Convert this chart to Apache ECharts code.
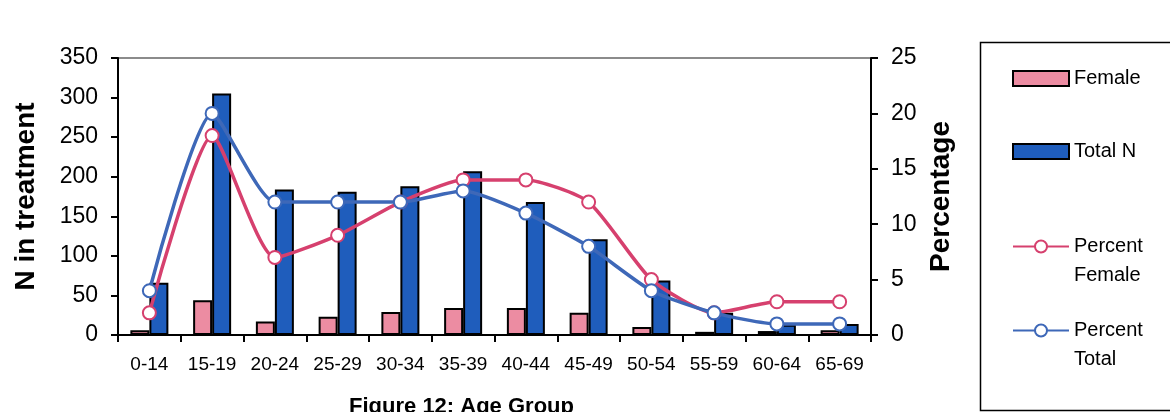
<!DOCTYPE html>
<html>
<head>
<meta charset="utf-8">
<script src="https://cdn.jsdelivr.net/npm/echarts@6/dist/echarts.min.js"></script>
<style>
html,body{margin:0;padding:0;background:#fff;}
#c{width:1170px;height:412px;}
</style>
</head>
<body>
<div id="c"></div>
<script>
var categories = ['0-14','15-19','20-24','25-29','30-34','35-39','40-44','45-49','50-54','55-59','60-64','65-69'];
var female = [6, 44, 17, 23, 29, 34, 34, 28, 10, 4, 5, 6];
var totalN = [66, 305, 184, 181, 188, 207, 168, 121, 69, 28, 13, 14];
var percentFemale = [2, 18, 7, 9, 12, 14, 14, 12, 5, 2, 3, 3];
var percentTotal = [4, 20, 12, 12, 12, 13, 11, 8, 4, 2, 1, 1];
var leftTicks = {min: 0, max: 350, interval: 50};
var rightTicks = {min: 0, max: 25, interval: 5};

var FONT = 'Liberation Sans, Arial, sans-serif';
var chart = echarts.init(document.getElementById('c'));
var axisLine = {show: true, onZero: false, lineStyle: {color: '#000', width: 2}};
var axisTick = {show: true, length: 7, lineStyle: {color: '#000', width: 2}};

function legendItem(name, top, twoLine, icon) {
  var l = {
    data: [name],
    orient: 'vertical', left: 1012, top: top, padding: 0,
    itemWidth: 56, itemHeight: 15, itemGap: 4,
    formatter: twoLine ? function (n) { return ' \n' + n; } : '{name}',
    textStyle: {fontFamily: FONT, fontSize: 20, color: '#000', lineHeight: 29}
  };
  if (icon) l.icon = icon;
  return l;
}

chart.setOption({
  animation: false,
  textStyle: {fontFamily: FONT},
  grid: {left: 118, right: 299, top: 58, bottom: 77, containLabel: false, outerBoundsMode: 'none',
         show: true, borderColor: '#666', borderWidth: 1.5, backgroundColor: 'transparent'},
  graphic: [{
    type: 'rect', left: 978, top: 40,
    shape: {width: 200, height: 368},
    style: {fill: 'none', stroke: '#000', lineWidth: 1.5}
  }],
  legend: [
    legendItem('Female', 64, false, 'rect'),
    legendItem('Total N', 137, false, 'rect'),
    legendItem('Percent\nFemale', 203, true),
    legendItem('Percent\nTotal', 287, true)
  ],
  xAxis: [{
    type: 'category', data: categories, position: 'bottom',
    axisLine: axisLine, axisTick: {show: true, length: 7, interval: 0, lineStyle: {color: '#000', width: 2}},
    axisLabel: {interval: 0, fontSize: 19, color: '#000', margin: 20, fontFamily: FONT},
    name: 'Figure 12: Age Group', nameLocation: 'middle', nameGap: 61,
    nameTextStyle: {fontSize: 22, fontWeight: 'bold', color: '#000', fontFamily: FONT, padding: [0, 66, 0, 0]}
  }],
  yAxis: [{
    type: 'value', min: leftTicks.min, max: leftTicks.max, interval: leftTicks.interval,
    position: 'left',
    axisLine: axisLine, axisTick: axisTick, splitLine: {show: false},
    axisLabel: {fontSize: 23, color: '#000', margin: 20, fontFamily: FONT},
    name: 'N in treatment', nameLocation: 'middle', nameGap: 78, nameRotate: 90,
    nameTextStyle: {fontSize: 28, fontWeight: 'bold', color: '#000', fontFamily: FONT}
  }, {
    type: 'value', min: rightTicks.min, max: rightTicks.max, interval: rightTicks.interval,
    position: 'right',
    axisLine: axisLine, axisTick: axisTick, splitLine: {show: false},
    axisLabel: {fontSize: 23, color: '#000', margin: 20, fontFamily: FONT},
    name: 'Percentage', nameLocation: 'middle', nameGap: 51, nameRotate: 90,
    nameTextStyle: {fontSize: 28, fontWeight: 'bold', color: '#000', fontFamily: FONT}
  }],
  series: [{
    name: 'Female', type: 'bar', data: female, yAxisIndex: 0,
    barWidth: 19, barGap: '0%',
    itemStyle: {color: '#EC8CA2', borderColor: '#000', borderWidth: 2}
  }, {
    name: 'Total N', type: 'bar', data: totalN, yAxisIndex: 0,
    barWidth: 19, barGap: '0%',
    itemStyle: {color: '#1F5DBC', borderColor: '#000', borderWidth: 2}
  }, {
    name: 'Percent\nFemale', type: 'line', data: percentFemale, yAxisIndex: 1,
    smooth: 0.2, symbol: 'emptyCircle', symbolSize: 13, z: 5,
    lineStyle: {color: '#D6406E', width: 3.5},
    itemStyle: {color: '#D6406E', borderColor: '#D6406E', borderWidth: 2.5}
  }, {
    name: 'Percent\nTotal', type: 'line', data: percentTotal, yAxisIndex: 1,
    smooth: 0.2, symbol: 'emptyCircle', symbolSize: 13, z: 6,
    lineStyle: {color: '#3E68B8', width: 3.5},
    itemStyle: {color: '#3E68B8', borderColor: '#3E68B8', borderWidth: 2.5}
  }]
});
</script>
</body>
</html>
